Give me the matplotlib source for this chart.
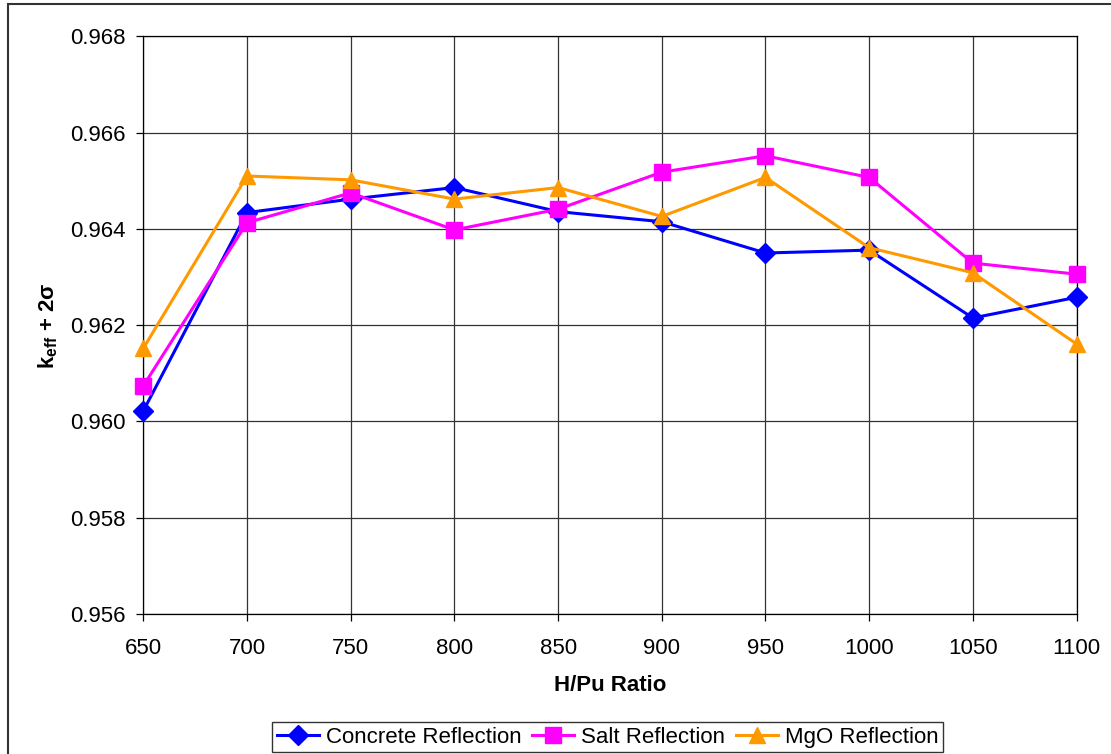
import matplotlib.pyplot as plt
from matplotlib.patches import Rectangle

plt.rcParams['font.family'] = ['Liberation Sans', 'DejaVu Sans']
plt.rcParams['mathtext.fontset'] = 'custom'
plt.rcParams['mathtext.rm'] = 'Liberation Sans'
plt.rcParams['mathtext.bf'] = 'Liberation Sans:bold'

h_pu = [650, 700, 750, 800, 850, 900, 950, 1000, 1050, 1100]
concrete = [0.96022, 0.96434, 0.96462, 0.96486, 0.96436, 0.96415, 0.96350, 0.96356, 0.96215, 0.96258]
salt = [0.96074, 0.96413, 0.96475, 0.96398, 0.96441, 0.96518, 0.96552, 0.96507, 0.96329, 0.96306]
mgo = [0.96152, 0.96510, 0.96502, 0.96462, 0.96486, 0.96426, 0.96507, 0.96361, 0.96309, 0.96161]

fig = plt.figure(figsize=(11.11, 7.54), dpi=100)
ax = fig.add_axes([0.129, 0.1857, 0.840, 0.766])

ax.plot(h_pu, concrete, color='#0000FF', lw=2.2, marker='D', ms=10, clip_on=False, zorder=3,
        label='Concrete Reflection')
ax.plot(h_pu, salt, color='#FF00FF', lw=2.2, marker='s', ms=11, clip_on=False, zorder=3,
        label='Salt Reflection')
ax.plot(h_pu, mgo, color='#FF9900', lw=2.2, marker='^', ms=11, clip_on=False, zorder=3,
        label='MgO Reflection')

ax.set_xlim(650, 1100)
ax.set_ylim(0.956, 0.968)
ax.set_xticks(range(650, 1101, 50))
ax.set_yticks([0.956, 0.958, 0.960, 0.962, 0.964, 0.966, 0.968])
ax.yaxis.set_major_formatter(plt.FormatStrFormatter('%.3f'))
ax.grid(True, color='#333333', lw=0.9)
ax.set_axisbelow(True)
for s in ax.spines.values():
    s.set_color('black')
    s.set_linewidth(0.9)
ax.tick_params(direction='out', length=5, width=0.9, labelsize=16)
ax.tick_params(axis='x', pad=12)
ax.tick_params(axis='y', pad=8)

ax.set_xlabel('H/Pu Ratio', fontsize=16, fontweight='bold', labelpad=12)
ax.set_ylabel(r'$\mathbf{k_{eff}}$ + 2σ', fontsize=16, fontweight='bold', labelpad=7)

leg = fig.legend(loc='center', bbox_to_anchor=(0.547, 0.0225), ncol=3, fontsize=16,
                 frameon=True, fancybox=False, edgecolor='black', handlelength=1.9,
                 handletextpad=0.3, columnspacing=0.5, borderpad=0.2, borderaxespad=0)
leg.get_frame().set_linewidth(1.0)

# outer chart border (right and bottom edges fall outside the image)
fig.patches.append(Rectangle((0.0072, -0.05), 1.05, 1.0447, transform=fig.transFigure,
                             fill=False, edgecolor='#333333', lw=1.5))

plt.savefig('out.png', dpi=100)
